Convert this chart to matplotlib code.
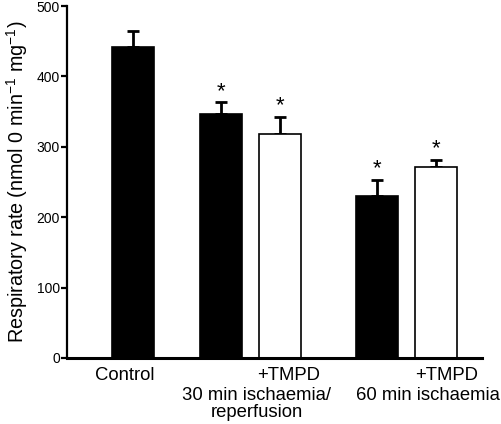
import matplotlib
matplotlib.use('Agg')
import matplotlib.pyplot as plt
import matplotlib.transforms as mtransforms

plt.rcParams['font.family'] = ['Liberation Sans', 'DejaVu Sans']
plt.rcParams['mathtext.fontset'] = 'custom'
plt.rcParams['mathtext.rm'] = 'Liberation Sans'
plt.rcParams['mathtext.it'] = 'Liberation Sans:italic'

# data
values = [442, 346, 318, 230, 271]
errors = [23, 17, 25, 23, 11]
colors = ['black', 'black', 'white', 'black', 'white']
significant = [False, True, True, True, True]

# layout (bar width = 1 unit)
positions = [1.59, 3.69, 5.10, 7.42, 8.83]

fig = plt.figure(figsize=(5.02, 4.24), dpi=100)
ax = fig.add_axes([0.133, 0.1557, 0.827, 0.830])

ax.bar(positions, values, width=1.0, color=colors, edgecolor='black',
       linewidth=1.2, zorder=2)
ax.errorbar(positions, values, yerr=[[0] * len(errors), errors], fmt='none',
            ecolor='black', elinewidth=2, capsize=4.5, capthick=2, zorder=1)

for x, v, e, s in zip(positions, values, errors, significant):
    if s:
        ax.text(x, v + e + 1, '*', ha='center', va='bottom', fontsize=16)

ax.set_xlim(0, 9.93)
ax.set_ylim(0, 500)
ax.set_yticks([0, 100, 200, 300, 400, 500])
ax.set_xticks([])
ax.spines['top'].set_visible(False)
ax.spines['right'].set_visible(False)
ax.spines['left'].set_linewidth(1.6)
ax.spines['bottom'].set_linewidth(2.2)
ax.tick_params(axis='y', direction='out', length=4, width=1.6, labelsize=10, pad=1)
ax.set_ylabel('Respiratory rate (nmol 0 min$^{-1}$ mg$^{-1}$)', fontsize=14.2, labelpad=5)

# category labels under the axis
trans = mtransforms.blended_transform_factory(ax.transData, ax.transAxes)
kw = dict(va='baseline', fontsize=13.3, transform=trans)
ax.text(1.39, -0.0625, 'Control', ha='center', **kw)
ax.text(5.31, -0.0625, '+TMPD', ha='center', **kw)
ax.text(9.08, -0.0625, '+TMPD', ha='center', **kw)
ax.text(4.55, -0.119, '30 min ischaemia/', ha='center', **kw)
ax.text(4.54, -0.168, 'reperfusion', ha='center', **kw)
ax.text(6.92, -0.119, '60 min ischaemia', ha='left', **kw)

fig.savefig('out.png', dpi=100)
